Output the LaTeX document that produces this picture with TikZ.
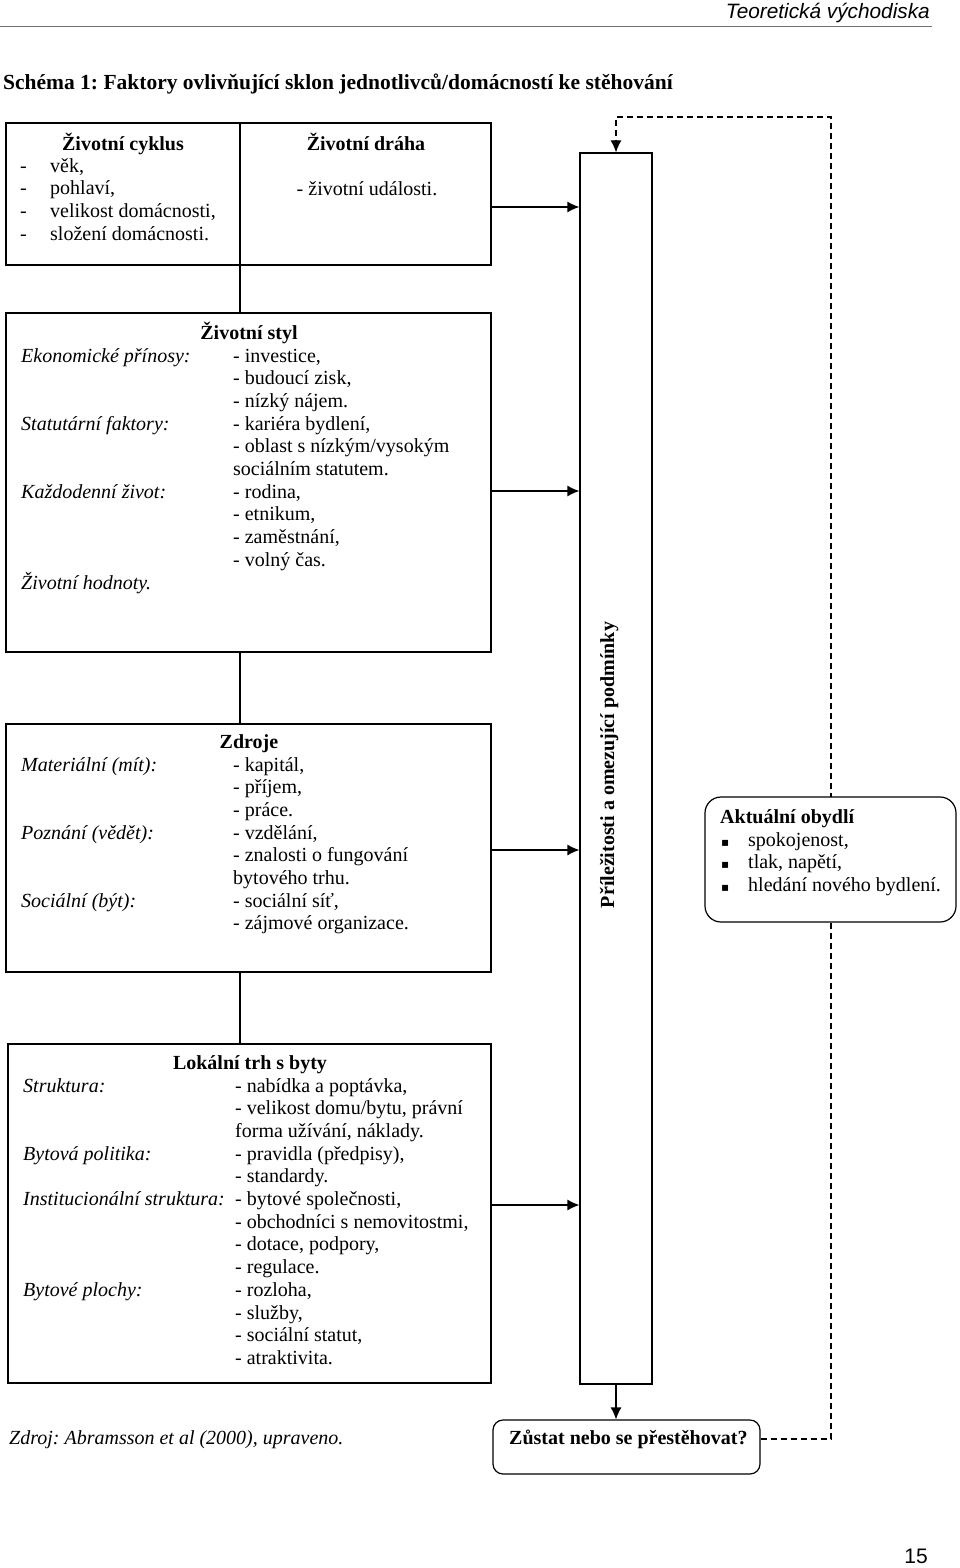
\documentclass[tikz,border=0pt]{standalone}
\usepackage{fontspec}
\setmainfont{Liberation Serif}
\newfontfamily\hdrfont{Liberation Sans}
\newfontfamily\symfont{DejaVu Sans}
\usetikzlibrary{arrows.meta}
\frenchspacing
\newcommand\Col[1]{\vtop{\lineskiplimit=-100pt\lineskip=0pt\baselineskip=22.7pt #1}}
\newcommand\Ln[1]{\hbox{#1}}
\tikzset{
  txt/.style={inner sep=0pt, anchor=base west, font=\fontsize{20}{22.7}\selectfont},
  itx/.style={inner sep=0pt, anchor=base west, font=\fontsize{20}{22.7}\selectfont\itshape},
  ttl/.style={inner sep=0pt, anchor=base, font=\fontsize{20}{22.7}\selectfont\bfseries},
  box/.style={draw, line width=1.2pt, inner sep=0pt, rectangle},
  conn/.style={line width=1.2pt},
  arr/.style={line width=1.2pt, -{Latex[length=12pt,width=11pt]}},
  dsh/.style={line width=1.2pt, dash pattern=on 6pt off 4pt},
  bul/.style={inner sep=0pt, anchor=base west, font=\symfont\fontsize{12}{12}\selectfont}
}
\begin{document}
\frenchspacing
\begin{tikzpicture}[x=1pt,y=-1pt]
\fill[white] (0,0) rectangle (960,1568);
\useasboundingbox (0,0) rectangle (960,1568);
% header
\node[inner sep=0pt, anchor=base east, font=\hdrfont\itshape\fontsize{20.8}{24}\selectfont] (hdr) at (930,19) {Teoretická východiska};
\coordinate (rl) at (0,27);
\coordinate (rr) at (932,27);
\draw[line width=1pt, black!55] (rl) -- (rr);
\node[inner sep=0pt, anchor=base west, font=\fontsize{21.5}{24}\selectfont\bfseries] (title) at (3,90) {Schéma 1: Faktory ovlivňující sklon jednotlivců/domácností ke stěhování};
% boxes
\node[box, minimum width=485pt, minimum height=142pt] (b1) at (248.5,194) {};
\node[box, minimum width=485pt, minimum height=339pt] (b2) at (248.5,482.5) {};
\node[box, minimum width=485pt, minimum height=248pt] (b3) at (248.5,848) {};
\node[box, minimum width=483pt, minimum height=339pt] (b4) at (249.5,1213.5) {};
\node[box, minimum width=72pt, minimum height=1231pt] (pr) at (616,768.5) {};
\node[box, rounded corners=10pt, minimum width=267pt, minimum height=54pt] (zb) at (626.5,1447) {};
% vertical connectors at x=240
\coordinate (vx) at (240,0);
\draw[conn] (b1.north -| vx) -- (b2.north -| vx);
\draw[conn] (b2.south -| vx) -- (b3.north -| vx);
\draw[conn] (b3.south -| vx) -- (b4.north -| vx);
% arrows to the tall box
\coordinate (y1) at (0,207);
\coordinate (y2) at (0,491);
\coordinate (y3) at (0,850);
\coordinate (y4) at (0,1205);
\draw[arr] (b1.east |- y1) -- (pr.west |- y1);
\draw[arr] (b2.east |- y2) -- (pr.west |- y2);
\draw[arr] (b3.east |- y3) -- (pr.west |- y3);
\draw[arr] (b4.east |- y4) -- (pr.west |- y4);
\draw[arr] (pr.south) -- (pr.south |- zb.north);
% dashed feedback
\coordinate (dr) at (831,1439);
\coordinate (dt) at (831,117);
\draw[dsh, -{Latex[length=12pt,width=11pt]}] (zb.east |- dr) -- (dr) -- (dt) -- (pr.north |- dt) -- (pr.north);
\node[box, rounded corners=16pt, fill=white, minimum width=251pt, minimum height=125pt] (ao) at (830.5,859.5) {};
% rotated label
\node[rotate=90, anchor=base, inner sep=0pt, font=\fontsize{20}{22.7}\selectfont\bfseries] (prt) at (614,765) {Příležitosti a omezující podmínky};
% box 1 text
\node[ttl] (t1a) at (123,150) {Životní cyklus};
\node[ttl] (t1b) at (366,150) {Životní dráha};
\node[txt, anchor=base] (t1c) at (367,195) {- životní události.};
\node[txt] (t1d) at (20,172) {\Col{\Ln{-}\Ln{-}\Ln{-}\Ln{-}}};
\node[txt] (t1e) at (50,172) {\Col{\Ln{věk,}\Ln{pohlaví,}\Ln{velikost domácnosti,}\Ln{složení domácnosti.}}};
% box 2 text
\node[ttl] (t2a) at (249,339) {Životní styl};
\node[itx] (t2b) at (21,362) {\Col{\Ln{Ekonomické přínosy:}\Ln{}\Ln{}\Ln{Statutární faktory:}\Ln{}\Ln{}\Ln{Každodenní život:}\Ln{}\Ln{}\Ln{}\Ln{Životní hodnoty.}}};
\node[txt] (t2c) at (233,362) {\Col{\Ln{- investice,}\Ln{- budoucí zisk,}\Ln{- nízký nájem.}\Ln{- kariéra bydlení,}\Ln{- oblast s nízkým/vysokým}\Ln{sociálním statutem.}\Ln{- rodina,}\Ln{- etnikum,}\Ln{- zaměstnání,}\Ln{- volný čas.}}};
% box 3 text
\node[ttl] (t3a) at (249,748) {Zdroje};
\node[itx] (t3b) at (21,771) {\Col{\Ln{Materiální (mít):}\Ln{}\Ln{}\Ln{Poznání (vědět):}\Ln{}\Ln{}\Ln{Sociální (být):}}};
\node[txt] (t3c) at (233,771) {\Col{\Ln{- kapitál,}\Ln{- příjem,}\Ln{- práce.}\Ln{- vzdělání,}\Ln{- znalosti o fungování}\Ln{bytového trhu.}\Ln{- sociální síť,}\Ln{- zájmové organizace.}}};
% box 4 text
\node[ttl] (t4a) at (250,1069) {Lokální trh s byty};
\node[itx] (t4b) at (23,1092) {\Col{\Ln{Struktura:}\Ln{}\Ln{}\Ln{Bytová politika:}\Ln{}\Ln{Institucionální struktura:}\Ln{}\Ln{}\Ln{}\Ln{Bytové plochy:}}};
\node[txt] (t4c) at (235,1092) {\Col{\Ln{- nabídka a poptávka,}\Ln{- velikost domu/bytu, právní}\Ln{forma užívání, náklady.}\Ln{- pravidla (předpisy),}\Ln{- standardy.}\Ln{- bytové společnosti,}\Ln{- obchodníci s nemovitostmi,}\Ln{- dotace, podpory,}\Ln{- regulace.}\Ln{- rozloha,}\Ln{- služby,}\Ln{- sociální statut,}\Ln{- atraktivita.}}};
% current dwelling
\node[ttl, anchor=base west] (t5a) at (720,823) {Aktuální obydlí};
\node[bul] (t5b) at (721,846) {\Col{\Ln{▪}\Ln{▪}\Ln{▪}}};
\node[txt] (t5c) at (748,846) {\Col{\Ln{spokojenost,}\Ln{tlak, napětí,}\Ln{hledání nového bydlení.}}};
% decision
\node[ttl, anchor=base west] (t6) at (509,1444) {Zůstat nebo se přestěhovat?};
\node[itx] (src) at (9,1444) {Zdroj: Abramsson et al (2000), upraveno.};
\node[inner sep=0pt, anchor=base east, font=\hdrfont\fontsize{21}{24}\selectfont] (pg) at (928,1563) {15};
\end{tikzpicture}
\end{document}
